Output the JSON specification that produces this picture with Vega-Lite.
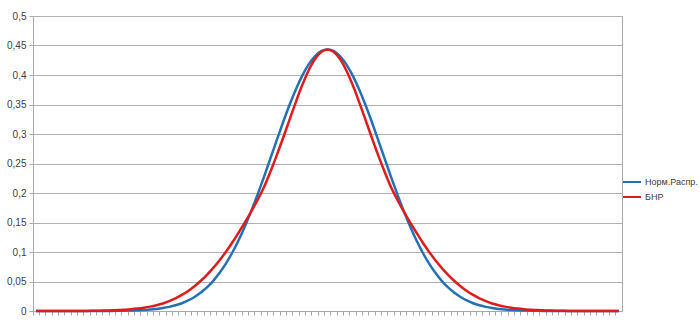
{
  "$schema": "https://vega.github.io/schema/vega-lite/v6.json",
  "autosize": "none",
  "width": 589,
  "height": 295,
  "padding": {"left": 33, "top": 16, "right": 78, "bottom": 9},
  "background": "white",
  "config": {
    "view": {"stroke": "#a8a8a8", "strokeWidth": 1},
    "font": "Liberation Sans"
  },
  "data": {
    "values": [
      {"x": -4.6, "N": 0, "B": 0},
      {"x": -4.5, "N": 0, "B": 0},
      {"x": -4.4, "N": 0, "B": 0},
      {"x": -4.3, "N": 0, "B": 0},
      {"x": -4.2, "N": 0, "B": 0},
      {"x": -4.1, "N": 0, "B": 0.0001},
      {"x": -4.0, "N": 0, "B": 0.0001},
      {"x": -3.9, "N": 0, "B": 0.0002},
      {"x": -3.8, "N": 0, "B": 0.0002},
      {"x": -3.7, "N": 0, "B": 0.0004},
      {"x": -3.6, "N": 0.0001, "B": 0.0005},
      {"x": -3.5, "N": 0.0001, "B": 0.0008},
      {"x": -3.4, "N": 0.0002, "B": 0.0011},
      {"x": -3.3, "N": 0.0003, "B": 0.0015},
      {"x": -3.2, "N": 0.0005, "B": 0.0022},
      {"x": -3.1, "N": 0.0008, "B": 0.0030},
      {"x": -3.0, "N": 0.0011, "B": 0.0041},
      {"x": -2.9, "N": 0.0017, "B": 0.0055},
      {"x": -2.8, "N": 0.0024, "B": 0.0074},
      {"x": -2.7, "N": 0.0035, "B": 0.0098},
      {"x": -2.6, "N": 0.0050, "B": 0.0128},
      {"x": -2.5, "N": 0.0070, "B": 0.0167},
      {"x": -2.4, "N": 0.0097, "B": 0.0214},
      {"x": -2.3, "N": 0.0132, "B": 0.0272},
      {"x": -2.2, "N": 0.0179, "B": 0.0340},
      {"x": -2.1, "N": 0.0238, "B": 0.0420},
      {"x": -2.0, "N": 0.0312, "B": 0.0512},
      {"x": -1.9, "N": 0.0404, "B": 0.0617},
      {"x": -1.8, "N": 0.0516, "B": 0.0735},
      {"x": -1.7, "N": 0.0651, "B": 0.0865},
      {"x": -1.6, "N": 0.0811, "B": 0.1010},
      {"x": -1.5, "N": 0.0996, "B": 0.1165},
      {"x": -1.4, "N": 0.1207, "B": 0.1335},
      {"x": -1.3, "N": 0.1444, "B": 0.1510},
      {"x": -1.2, "N": 0.1705, "B": 0.1695},
      {"x": -1.1, "N": 0.1986, "B": 0.1890},
      {"x": -1.0, "N": 0.2283, "B": 0.2105},
      {"x": -0.9, "N": 0.2590, "B": 0.2364},
      {"x": -0.8, "N": 0.2899, "B": 0.2642},
      {"x": -0.7, "N": 0.3203, "B": 0.2937},
      {"x": -0.6, "N": 0.3491, "B": 0.3240},
      {"x": -0.5, "N": 0.3755, "B": 0.3541},
      {"x": -0.4, "N": 0.3986, "B": 0.3825},
      {"x": -0.3, "N": 0.4176, "B": 0.4072},
      {"x": -0.2, "N": 0.4317, "B": 0.4266},
      {"x": -0.1, "N": 0.4404, "B": 0.4390},
      {"x": 0.0, "N": 0.4433, "B": 0.4433},
      {"x": 0.1, "N": 0.4404, "B": 0.4390},
      {"x": 0.2, "N": 0.4317, "B": 0.4266},
      {"x": 0.3, "N": 0.4176, "B": 0.4072},
      {"x": 0.4, "N": 0.3986, "B": 0.3825},
      {"x": 0.5, "N": 0.3755, "B": 0.3541},
      {"x": 0.6, "N": 0.3491, "B": 0.3240},
      {"x": 0.7, "N": 0.3203, "B": 0.2937},
      {"x": 0.8, "N": 0.2899, "B": 0.2642},
      {"x": 0.9, "N": 0.2590, "B": 0.2364},
      {"x": 1.0, "N": 0.2283, "B": 0.2105},
      {"x": 1.1, "N": 0.1986, "B": 0.1890},
      {"x": 1.2, "N": 0.1705, "B": 0.1695},
      {"x": 1.3, "N": 0.1444, "B": 0.1510},
      {"x": 1.4, "N": 0.1207, "B": 0.1335},
      {"x": 1.5, "N": 0.0996, "B": 0.1165},
      {"x": 1.6, "N": 0.0811, "B": 0.1010},
      {"x": 1.7, "N": 0.0651, "B": 0.0865},
      {"x": 1.8, "N": 0.0516, "B": 0.0735},
      {"x": 1.9, "N": 0.0404, "B": 0.0617},
      {"x": 2.0, "N": 0.0312, "B": 0.0512},
      {"x": 2.1, "N": 0.0238, "B": 0.0420},
      {"x": 2.2, "N": 0.0179, "B": 0.0340},
      {"x": 2.3, "N": 0.0132, "B": 0.0272},
      {"x": 2.4, "N": 0.0097, "B": 0.0214},
      {"x": 2.5, "N": 0.0070, "B": 0.0167},
      {"x": 2.6, "N": 0.0050, "B": 0.0128},
      {"x": 2.7, "N": 0.0035, "B": 0.0098},
      {"x": 2.8, "N": 0.0024, "B": 0.0074},
      {"x": 2.9, "N": 0.0017, "B": 0.0055},
      {"x": 3.0, "N": 0.0011, "B": 0.0041},
      {"x": 3.1, "N": 0.0008, "B": 0.0030},
      {"x": 3.2, "N": 0.0005, "B": 0.0022},
      {"x": 3.3, "N": 0.0003, "B": 0.0015},
      {"x": 3.4, "N": 0.0002, "B": 0.0011},
      {"x": 3.5, "N": 0.0001, "B": 0.0008},
      {"x": 3.6, "N": 0.0001, "B": 0.0005},
      {"x": 3.7, "N": 0, "B": 0.0004},
      {"x": 3.8, "N": 0, "B": 0.0002},
      {"x": 3.9, "N": 0, "B": 0.0002},
      {"x": 4.0, "N": 0, "B": 0.0001},
      {"x": 4.1, "N": 0, "B": 0.0001},
      {"x": 4.2, "N": 0, "B": 0},
      {"x": 4.3, "N": 0, "B": 0},
      {"x": 4.4, "N": 0, "B": 0},
      {"x": 4.5, "N": 0, "B": 0},
      {"x": 4.6, "N": 0, "B": 0}
    ]
  },
  "transform": [{"fold": ["N", "B"], "as": ["series", "y"]}],
  "mark": {"type": "line", "strokeWidth": 2.5, "interpolate": "monotone"},
  "encoding": {
    "x": {
      "field": "x",
      "type": "ordinal",
      "sort": "ascending",
      "scale": {"type": "band", "paddingInner": 0, "paddingOuter": 0},
      "axis": {
        "title": null,
        "labels": false,
        "ticks": true,
        "tickSize": 4,
        "tickColor": "#a8a8a8",
        "domainColor": "#a8a8a8",
        "bandPosition": 0,
        "grid": false
      }
    },
    "y": {
      "field": "y",
      "type": "quantitative",
      "scale": {"domain": [0, 0.5], "nice": false, "zero": true},
      "axis": {
        "title": null,
        "values": [0, 0.05, 0.1, 0.15, 0.2, 0.25, 0.3, 0.35, 0.4, 0.45, 0.5],
        "labelExpr": "replace(format(datum.value, '~g'), '.', ',')",
        "grid": true,
        "gridColor": "#b0b0b0",
        "domainColor": "#a8a8a8",
        "tickColor": "#a8a8a8",
        "tickSize": 4,
        "labelPadding": 3,
        "labelFontSize": 10,
        "labelColor": "#404040",
        "labelFont": "Liberation Sans"
      }
    },
    "color": {
      "field": "series",
      "type": "nominal",
      "sort": ["N", "B"],
      "scale": {"domain": ["N", "B"], "range": ["#2470b5", "#e01b1b"]},
      "legend": {
        "title": null,
        "orient": "none",
        "legendX": 589,
        "legendY": 156,
        "padding": 0,
        "symbolType": "stroke",
        "symbolSize": 324,
        "symbolStrokeWidth": 2,
        "rowPadding": 0,
        "labelOffset": 3,
        "labelFontSize": 9,
        "labelLimit": 80,
        "labelColor": "#404040",
        "labelFont": "Liberation Sans",
        "labelExpr": "datum.label == 'N' ? 'Норм.Распр.' : 'БНР'"
      }
    }
  }
}
